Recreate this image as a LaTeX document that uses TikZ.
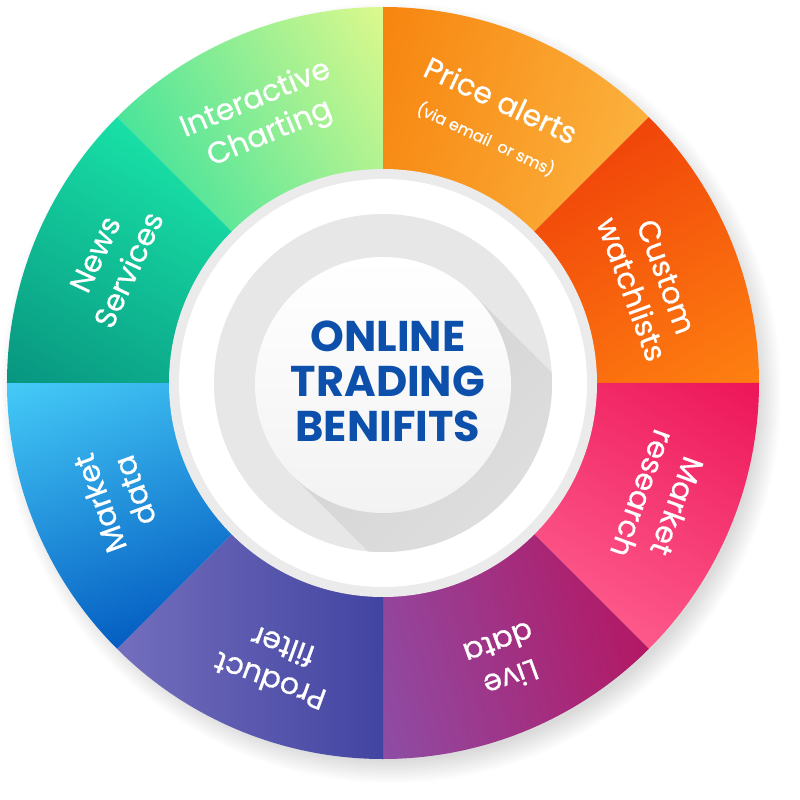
\documentclass[tikz,border=0pt]{standalone}
\usepackage{fontspec}
\setmainfont{Poppins}
\newfontfamily\lblfont{Poppins}[FakeBold=0.6]
\definecolor{tblue}{HTML}{0C50AC}
\definecolor{ringgray}{HTML}{E7E7E7}
\definecolor{bandgray}{HTML}{EBEBEB}
\definecolor{shA}{HTML}{D3D3D3}
\definecolor{shB}{HTML}{E6E6E6}
\definecolor{icA}{HTML}{E4FA8C}\definecolor{icB}{HTML}{3CE29C}
\definecolor{paA}{HTML}{FCB440}\definecolor{paB}{HTML}{F6800A}
\definecolor{cwA}{HTML}{EF3F08}\definecolor{cwB}{HTML}{FF8412}
\definecolor{mrA}{HTML}{EC1255}\definecolor{mrB}{HTML}{FF6090}
\definecolor{ldA}{HTML}{B51560}\definecolor{ldB}{HTML}{8A52AC}
\definecolor{pfA}{HTML}{383C9C}\definecolor{pfB}{HTML}{7670BE}
\definecolor{mdA}{HTML}{4AD4FC}\definecolor{mdB}{HTML}{0056BE}
\definecolor{nsA}{HTML}{1AE8AA}\definecolor{nsB}{HTML}{07917E}
\newcommand\wheelseg[6]{%
  \begin{scope}
    \clip (0,0) -- (#1:376) arc[start angle=#1, end angle=#2, radius=376] -- cycle;
    \shade[top color=#3, bottom color=#4, shading angle=#5, shift={(#6:295)}] (-165,-165) rectangle (165,165);
  \end{scope}}
\tikzset{
  lbl/.style={text=white, font=\lblfont\fontsize{30}{37}\selectfont, align=center, inner sep=0pt},
  sublbl/.style={text=white, font=\lblfont\fontsize{16}{19}\selectfont, inner sep=0pt},
  ctitle/.style={text=tblue, font=\bfseries\fontsize{43}{45}\selectfont, align=center, inner sep=0pt}
}
\begin{document}
\begin{tikzpicture}[x=1pt,y=1pt]
\useasboundingbox (-383,-417) rectangle (417,383);
% soft drop shadow
\foreach \i in {1,...,12} \fill[black,opacity=0.013] (8,-10) circle[radius=366+2*\i];
% segments
\wheelseg{90}{135}{icA}{icB}{-60}{112.5}
\wheelseg{45}{90}{paA}{paB}{-105}{67.5}
\wheelseg{0}{45}{cwA}{cwB}{30}{22.5}
\wheelseg{-45}{0}{mrA}{mrB}{-30}{-22.5}
\wheelseg{-90}{-45}{ldA}{ldB}{-75}{-67.5}
\wheelseg{-135}{-90}{pfA}{pfB}{-90}{-112.5}
\wheelseg{180}{225}{mdA}{mdB}{20}{202.5}
\wheelseg{135}{180}{nsA}{nsB}{-30}{157.5}
% inner rings
\fill[bandgray] (0,0) circle[radius=214];
\fill[white] (0,0) circle[radius=204];
\fill[ringgray] (0,0) circle[radius=169];
\begin{scope}
  \clip (0,0) circle[radius=169];
  \shade[top color=shA, bottom color=shB, shading angle=45]
    (90.5,88.5) -- (302.5,-123.5) -- (121.5,-304.5) -- (-90.5,-92.5) -- cycle;
\end{scope}
\shade[top color=white, bottom color=white!95!black] (0,-2) circle[radius=128];
\node[ctitle] (title) at (5,2) {ONLINE\\TRADING\\BENIFITS};
% labels
\node[lbl, rotate=22.5] (ic) at (-120,266) {Interactive\\Charting};
\node[lbl, rotate=-25] (pa) at (118,283) {Price alerts};
\node[sublbl, rotate=-25] (pasub) at (103,244) {(via email\ \ or sms)};
\node[lbl, rotate=-70] (cw) at (266,100) {Custom\\watchlists};
\node[lbl, rotate=-110] (mr) at (277,-117) {Market\\research};
\node[lbl, rotate=-160] (ld) at (122,-278) {Live\\data};
\node[lbl, rotate=160] (pf) at (-107,-281) {Product\\filter};
\node[lbl, rotate=110] (md) at (-266,-114) {Market\\data};
\node[lbl, rotate=65] (ns) at (-271,121) {News\\Services};
\end{tikzpicture}
\end{document}
